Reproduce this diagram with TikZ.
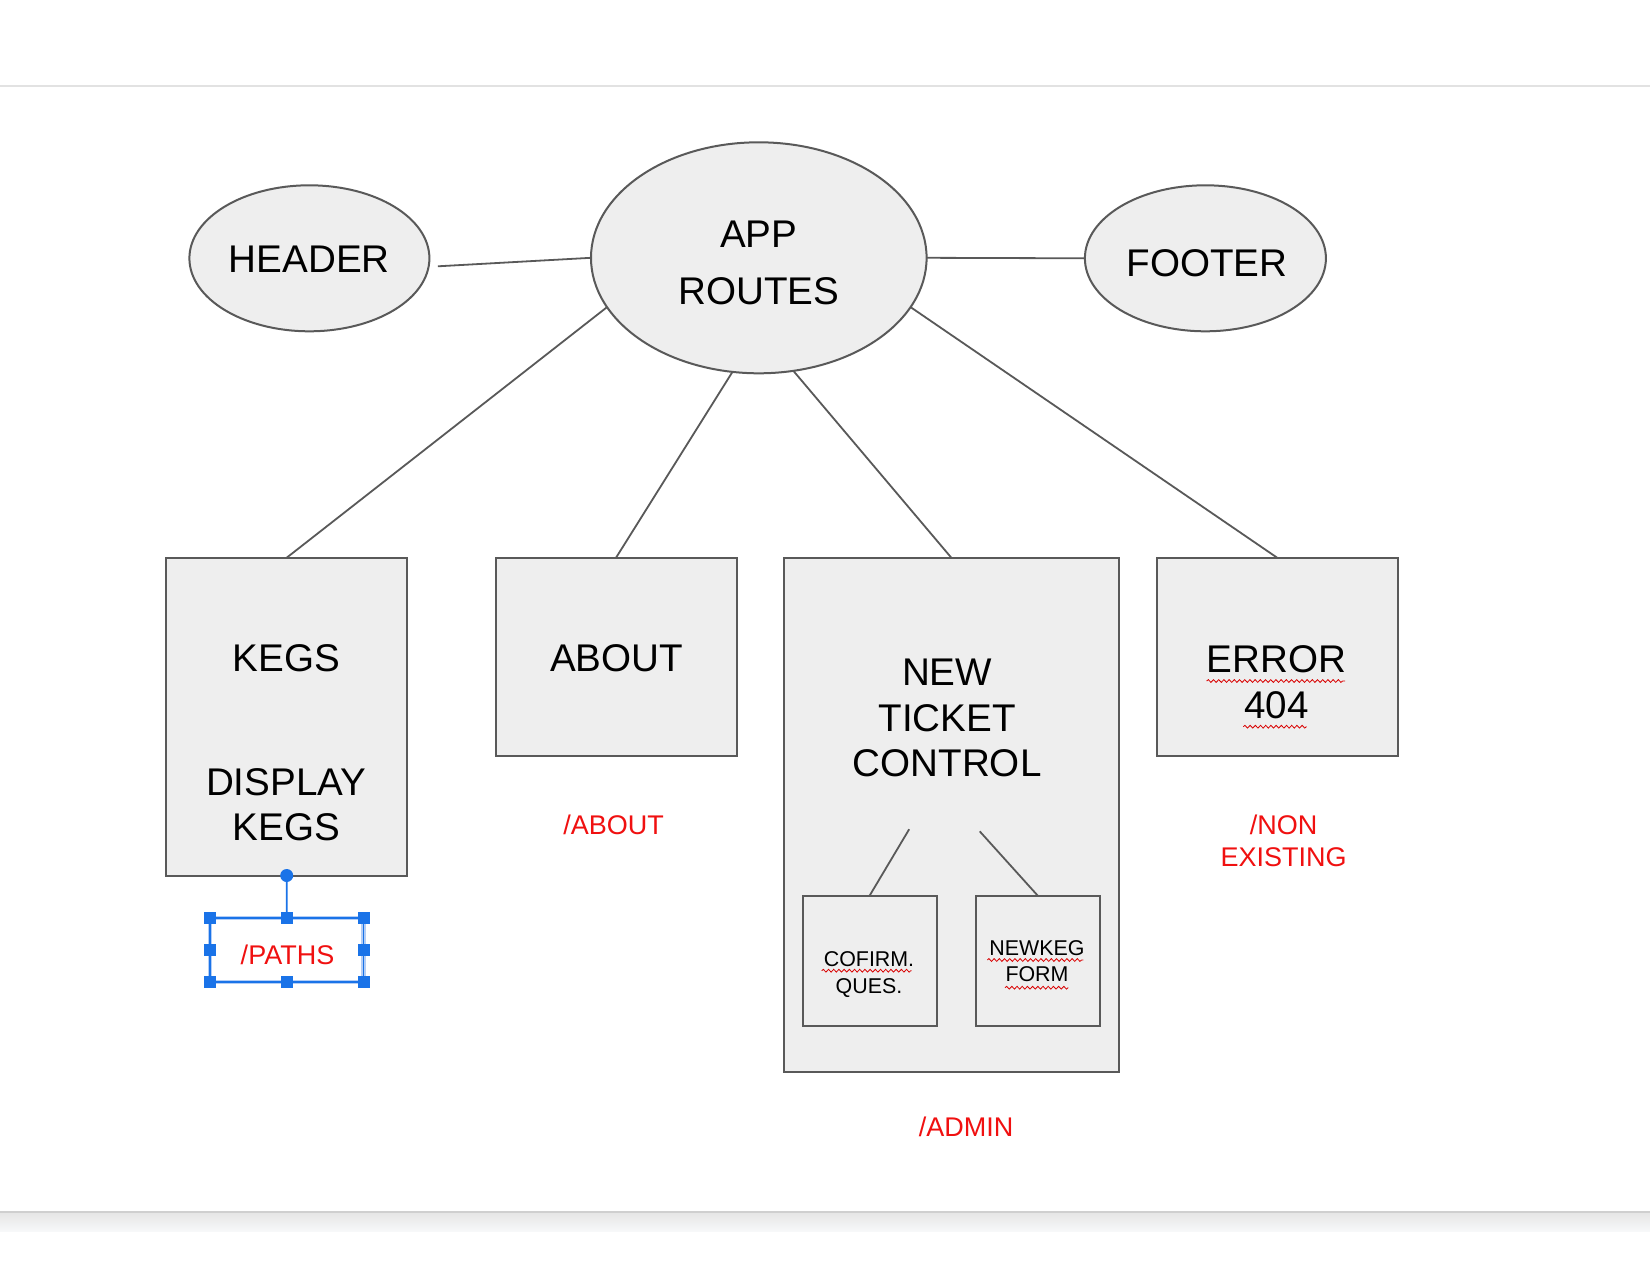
\documentclass[tikz,border=0pt]{standalone}
\usepackage{fontspec}
\setmainfont{Liberation Sans}
\usetikzlibrary{shapes.geometric,decorations.pathmorphing}
\definecolor{boxfill}{HTML}{EEEEEE}
\definecolor{boxline}{HTML}{595959}
\definecolor{redtxt}{HTML}{F01010}
\definecolor{selblue}{HTML}{1A73E8}
\definecolor{selhalo}{HTML}{B3CEF6}
\definecolor{toprule}{HTML}{E2E2E2}
\definecolor{botrule}{HTML}{CFCFCF}
\definecolor{shadetop}{HTML}{E6E6E6}
\definecolor{shadebot}{HTML}{F7F8F9}
\tikzset{
  shapebox/.style={rectangle, draw=boxline, fill=boxfill, line width=1pt, inner sep=0pt, outer sep=0pt},
  shapeell/.style={ellipse, draw=boxline, fill=boxfill, line width=1pt, inner sep=0pt, outer sep=0pt},
  conn/.style={draw=boxline, line width=0.9pt},
  bigtxt/.style={anchor=base, inner sep=0pt, font=\fontsize{19.3pt}{23pt}\selectfont},
  redlbl/.style={anchor=base, inner sep=0pt, text=redtxt, font=\fontsize{13.5pt}{16pt}\selectfont},
  smalltxt/.style={anchor=base, inner sep=0pt, font=\fontsize{10.7pt}{13pt}\selectfont},
  squig/.style={draw=red!85!black, line width=0.4pt, decorate, decoration={snake, amplitude=0.7pt, segment length=2.6pt}},
  handle/.style={rectangle, fill=selblue, draw=none, minimum size=6pt, inner sep=0pt},
}
\begin{document}
\begin{tikzpicture}[x=0.5pt,y=-0.5pt]
\useasboundingbox (0,0) rectangle (1650,1275);
\fill[white] (0,0) rectangle (1650,1275);
% page chrome
\draw[toprule, line width=0.6pt] (0,86) -- (1650,86);
\shade[top color=shadetop, bottom color=shadebot] (0,1213) rectangle (1650,1231);
\draw[botrule, line width=1.2pt] (0,1212) -- (1650,1212);

% ellipses
\node[shapeell, minimum width=120pt, minimum height=73pt] (header) at (309.4,258.3) {};
\node[shapeell, minimum width=167.8pt, minimum height=115.5pt] (app) at (758.8,257.8) {};
\node[shapeell, minimum width=120.5pt, minimum height=73pt] (footer) at (1205.4,258.3) {};

% boxes
\node[shapebox, minimum width=120.5pt, minimum height=158.9pt] (kegs) at (286.7,716.6) {};
\node[shapebox, minimum width=120.5pt, minimum height=99pt] (about) at (616.1,656.6) {};
\node[shapebox, minimum width=167.3pt, minimum height=257.3pt] (ntc) at (951.3,815) {};
\node[shapebox, minimum width=120.5pt, minimum height=99pt] (error) at (1277,656.6) {};
\node[shapebox, minimum width=66.8pt, minimum height=65.3pt] (cofirm) at (869.7,960.8) {};
\node[shapebox, minimum width=62.1pt, minimum height=65.3pt] (newkeg) at (1037.6,960.8) {};

% connectors
\draw[conn] ([xshift=4.2pt,yshift=-4pt]header.east) -- (app.west);
\draw[conn] (app.east) -- (footer.west);
\draw[conn] (app.198) -- (kegs.north);
\draw[conn] (app.257) -- (about.north);
\draw[conn] (app.287) -- (ntc.north);
\draw[conn] (app.342.5) -- (error.north);
\coordinate (ntcA) at (909.2,829.2);
\coordinate (ntcB) at (979.7,831.3);
\draw[conn] (ntcA) -- (cofirm.north);
\draw[conn] (ntcB) -- (newkeg.north);

% texts
\node[bigtxt] (t-header) at (309.4,272.7) {HEADER};
\node[bigtxt] (t-app1) at (758.8,247.3) {APP};
\node[bigtxt] (t-app2) at (758.8,304) {ROUTES};
\node[bigtxt] (t-footer) at (1207,276.9) {FOOTER};
\node[bigtxt] (t-kegs1) at (286.2,671.5) {KEGS};
\node[bigtxt] (t-kegs2) at (286.2,795.7) {DISPLAY};
\node[bigtxt] (t-kegs3) at (286.2,840.9) {KEGS};
\node[bigtxt] (t-about) at (616.7,671.5) {ABOUT};
\node[bigtxt] (t-ntc1) at (947.1,685.2) {NEW};
\node[bigtxt] (t-ntc2) at (947.1,731.5) {TICKET};
\node[bigtxt] (t-ntc3) at (947.1,776.7) {CONTROL};
\node[bigtxt] (t-err1) at (1276.4,672.7) {ERROR};
\node[bigtxt] (t-err2) at (1276.4,718.3) {404};
\node[smalltxt] (t-cof1) at (869,966) {COFIRM.};
\node[smalltxt] (t-cof2) at (869,993.3) {QUES.};
\node[smalltxt] (t-nk1) at (1037,955) {NEWKEG};
\node[smalltxt] (t-nk2) at (1037,981.7) {FORM};

% red path labels
\node[redlbl] (r-about) at (613.5,834.3) {/ABOUT};
\node[redlbl] (r-non1) at (1283.5,834.3) {/NON};
\node[redlbl] (r-non2) at (1283.5,866.7) {EXISTING};
\node[redlbl] (r-admin) at (966,1136.7) {/ADMIN};

% spell-check squiggles
\draw[squig] (1206.7,681) -- (1345,681);
\draw[squig] (1243.3,726.7) -- (1306.7,726.7);
\draw[squig] (821.7,970.7) -- (911.7,970.7);
\draw[squig] (987.3,960) -- (1083.3,960);
\draw[squig] (1005,987.7) -- (1068.3,987.7);

% selected /PATHS text box
\node[rectangle, draw=selhalo, line width=2.4pt, minimum width=76.75pt, minimum height=32pt, inner sep=0pt, outer sep=0pt] (selbox) at (286.75,950) {};
\draw[selblue, line width=0.9pt] (selbox.north west) rectangle (selbox.south east);
\node[redlbl] (paths) at (287.5,964) {/PATHS};
\draw[selblue, line width=0.9pt] (kegs.south) -- (selbox.north);
\node[circle, fill=selblue, minimum size=6.5pt, inner sep=0pt] (selknob) at (kegs.south) {};
\foreach \a in {north west,north,north east,east,south east,south,south west,west}
  \node[handle] (h-\a) at (selbox.\a) {};
\end{tikzpicture}
\end{document}
